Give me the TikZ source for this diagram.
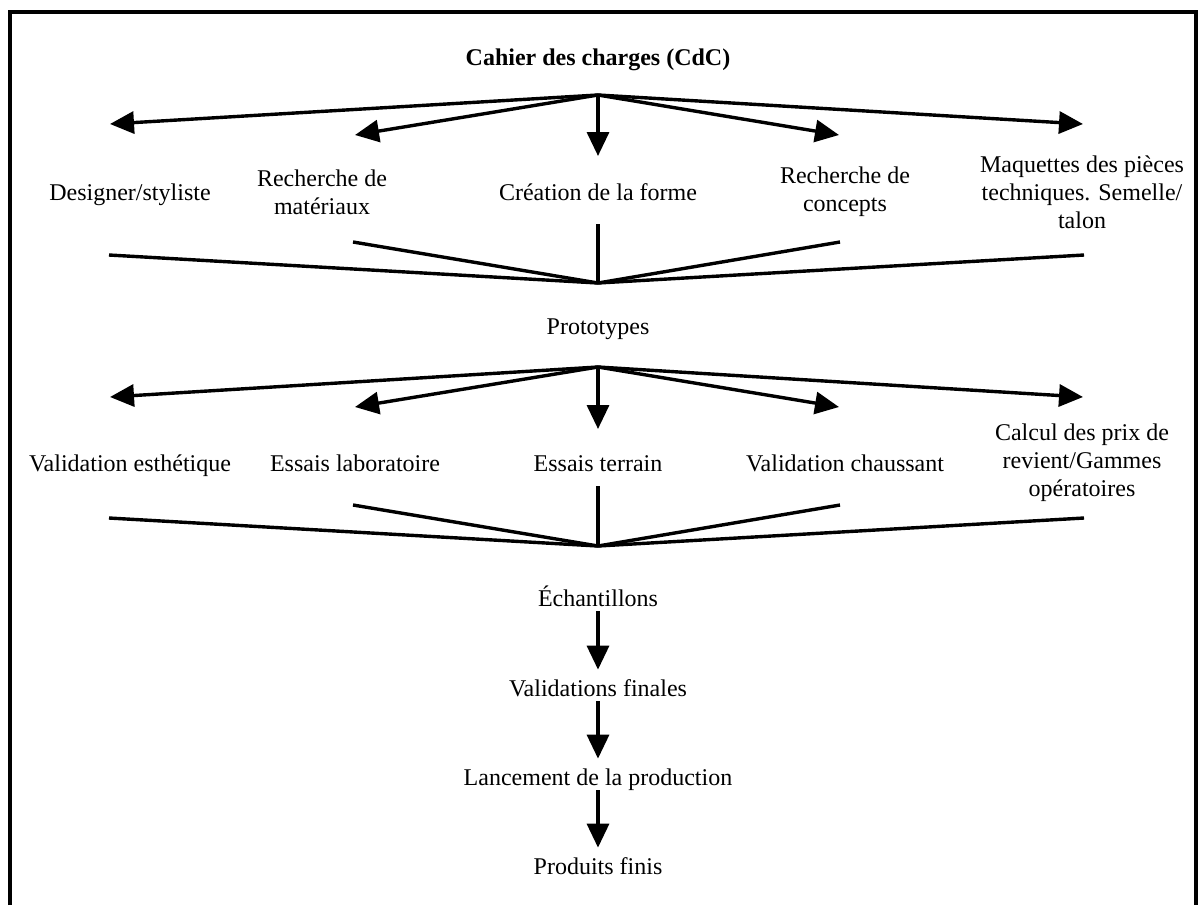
\documentclass[tikz,border=0pt]{standalone}
\usepackage{fontspec}
\setmainfont{Liberation Serif}
\usetikzlibrary{arrows.meta}
\tikzset{
  lbl/.style={align=center, inner sep=0pt, font=\fontsize{12}{14}\selectfont},
  one/.style={lbl, text height=10pt, text depth=2pt},
  ttl/.style={one, font=\fontsize{12}{14}\selectfont\bfseries},
  fan/.style={line width=1.7pt, -{Triangle[length=12pt, width=11pt]}},
  merge/.style={line width=1.7pt},
  frame/.style={line width=2pt},
}

\begin{document}
\begin{tikzpicture}[x=0.5pt, y=-0.5pt]
    \useasboundingbox (0,0) rectangle (1203,905);
    \draw[frame] (10,905) -- (10,12) -- (1196,12) -- (1196,905);
    % conception
    \node[ttl] (cdc) at (598,57) {Cahier des charges (CdC)};
    \coordinate (h1) at (598,95);
    \node[one] (ds) at (130,192) {Designer/styliste};
    \node[lbl] (mt) at (322,192) {Recherche de\\matériaux};
    \node[one] (cf) at (598,192) {Création de la forme};
    \node[lbl] (cc) at (845,192) {Recherche de\\concepts};
    \node[lbl] (mq) at (1082,192) {Maquettes des pièces\\techniques. Semelle/\\talon};
    \coordinate (ds-a) at (110,124); \coordinate (ds-b) at (109,255);
    \coordinate (mt-a) at (355,135); \coordinate (mt-b) at (353,242);
    \coordinate (cf-a) at (598,156); \coordinate (cf-b) at (598,224);
    \coordinate (cc-a) at (839,135); \coordinate (cc-b) at (840,242);
    \coordinate (mq-a) at (1083,124); \coordinate (mq-b) at (1084,255);
    \coordinate (m1) at (598,283);
    \foreach \n in {ds,mt,cf,cc,mq} {
      \draw[fan] (h1) -- (\n-a);
      \draw[merge] (\n-b) -- (m1);
    }
    \node[one] (pt) at (598,326) {Prototypes};
    % validation
    \coordinate (h2) at (598,367);
    \node[one] (ve) at (130,463) {Validation esthétique};
    \node[one] (el) at (355,463) {Essais laboratoire};
    \node[one] (et) at (598,463) {Essais terrain};
    \node[one] (vc) at (845,463) {Validation chaussant};
    \node[lbl] (cp) at (1082,463) {Calcul des prix de\\revient/Gammes\\opératoires};
    \coordinate (ve-a) at (110,397); \coordinate (ve-b) at (109,518);
    \coordinate (el-a) at (355,407); \coordinate (el-b) at (353,505);
    \coordinate (et-a) at (598,429); \coordinate (et-b) at (598,486);
    \coordinate (vc-a) at (839,407); \coordinate (vc-b) at (840,505);
    \coordinate (cp-a) at (1083,397); \coordinate (cp-b) at (1084,518);
    \coordinate (m2) at (598,546);
    \foreach \n in {ve,el,et,vc,cp} {
      \draw[fan] (h2) -- (\n-a);
      \draw[merge] (\n-b) -- (m2);
    }
    % production
    \node[one] (ec) at (598,598) {Échantillons};
    \node[one] (vf) at (598,688) {Validations finales};
    \node[one] (lp) at (598,777) {Lancement de la production};
    \node[one] (pf) at (598,866) {Produits finis};
    \draw[fan, shorten <=0.5pt, shorten >=3pt] (ec) -- (vf);
    \draw[fan, shorten <=0.5pt, shorten >=3pt] (vf) -- (lp);
    \draw[fan, shorten <=0.5pt, shorten >=3pt] (lp) -- (pf);
\end{tikzpicture}
\end{document}
